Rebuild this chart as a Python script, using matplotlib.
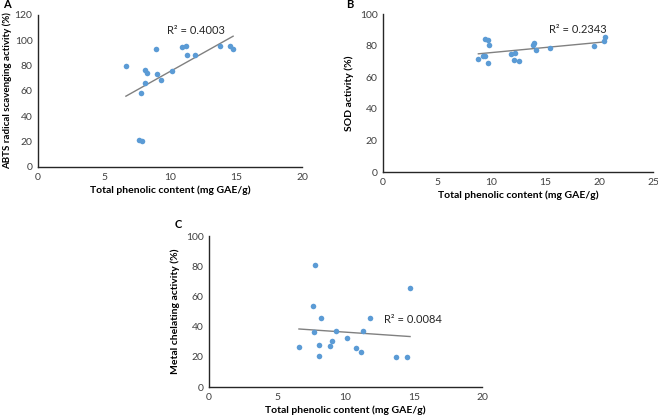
import numpy as np
import matplotlib
matplotlib.use("Agg")
import matplotlib.pyplot as plt

plt.rcParams['font.family'] = ['Lato', 'DejaVu Sans']

# panel A - ABTS vs phenolic
tpc_a = [6.66, 7.8, 7.65, 7.87, 8.1, 8.23, 8.1, 8.94, 9.04, 9.34, 10.18, 10.89, 11.24, 11.32, 11.87, 13.75, 14.56, 14.78]
abts = [79.4, 58.8, 21.4, 20.6, 76.3, 73.9, 66.2, 93.4, 73.6, 68.6, 76.0, 94.7, 95.3, 88.1, 88.1, 95.8, 95.5, 93.1]

# panel B - SOD vs phenolic
tpc_b = [8.83, 9.23, 9.44, 9.41, 9.75, 9.85, 9.75, 11.82, 12.22, 12.16, 12.59, 13.86, 13.98, 14.14, 15.43, 19.54, 20.43, 20.52]
sod = [71.8, 73.7, 73.7, 84.2, 83.8, 80.4, 68.8, 74.5, 75.6, 70.9, 70.5, 80.4, 81.7, 77.3, 78.7, 79.8, 82.7, 85.7]

# panel C - metal chelating vs phenolic
tpc_c = [6.59, 7.8, 7.59, 7.71, 8.05, 8.05, 8.2, 8.9, 9.0, 9.27, 10.12, 10.8, 11.17, 11.27, 11.8, 13.7, 14.5, 14.73]
chel = [26.2, 80.8, 53.7, 36.1, 28.0, 20.7, 45.4, 27.1, 30.2, 37.2, 32.2, 25.8, 23.1, 37.2, 46.0, 19.6, 19.6, 65.4]

r2_labels = ['R² = 0.4003', 'R² = 0.2343', 'R² = 0.0084']

W, H = 658, 419
fig = plt.figure(figsize=(W / 100, H / 100), dpi=100)

def box(l, t, r, b):
    return [l / W, 1 - b / H, (r - l) / W, (b - t) / H]

blue = '#5B9BD5'
grey = '#808080'

def panel(rect, x, y, xmax, ymax, ystep, xstep, ylabel, r2, r2pos, letter, letterpos, ypad=4, ysize=7.5):
    ax = fig.add_axes(box(*rect))
    ax.scatter(x, y, s=16, color=blue, zorder=3, linewidths=0)
    m, c = np.polyfit(x, y, 1)
    xs = np.array([min(x), max(x)])
    ax.plot(xs, m * xs + c, color=grey, lw=1)
    ax.set_xlim(0, xmax)
    ax.set_ylim(0, ymax)
    ax.set_xticks(np.arange(0, xmax + 0.1, xstep))
    ax.set_yticks(np.arange(0, ymax + 0.1, ystep))
    ax.tick_params(length=0, labelsize=7.5, colors='#404040', pad=4)
    for s in ['top', 'right']:
        ax.spines[s].set_visible(False)
    for s in ['left', 'bottom']:
        ax.spines[s].set_color('#262626')
        ax.spines[s].set_linewidth(1.0)
    ax.set_xlabel('Total phenolic content (mg GAE/g)', fontsize=7.5, fontweight='bold', labelpad=3)
    ax.set_ylabel(ylabel, fontsize=ysize, fontweight='bold', labelpad=ypad)
    ax.text(r2pos[0], r2pos[1], r2, fontsize=8, color='#262626', ha='left', va='center')
    fig.text(letterpos[0] / W, 1 - letterpos[1] / H, letter, fontsize=8, fontweight='bold', ha='left', va='center')
    return ax

panel((38, 15, 302, 167), tpc_a, abts, 20, 120, 20, 5,
      'ABTS radical scavenging activity (%)', r2_labels[0], (9.8, 108), 'A', (3, 5), ypad=2, ysize=7)
panel((383, 14, 653, 172), tpc_b, sod, 25, 100, 20, 5,
      'SOD activity (%)', r2_labels[1], (15.4, 90), 'B', (346, 4))
panel((209, 236, 482, 387), tpc_c, chel, 20, 100, 20, 5,
      'Metal chelating activity (%)', r2_labels[2], (12.8, 45), 'C', (175, 224))

fig.savefig('out.png', dpi=100)
